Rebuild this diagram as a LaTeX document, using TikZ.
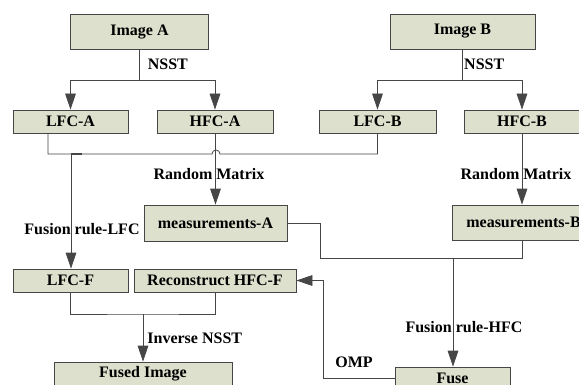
\documentclass[tikz,border=0pt]{standalone}
\usepackage{fontspec}
\setmainfont{Liberation Serif}
\usetikzlibrary{arrows.meta}
\definecolor{boxfill}{RGB}{221,224,204}
\definecolor{linegray}{RGB}{70,70,70}
\begin{document}
\begin{tikzpicture}[x=0.75pt, y=-0.75pt,
        box/.style={draw=linegray, fill=boxfill, line width=0.6pt, inner sep=0pt, font=\fontsize{12}{14}\selectfont\bfseries},
        link/.style={draw=linegray, line width=0.6pt},
        tip/.style={link, -{Triangle[length=12pt, width=8pt]}},
        lbl/.style={font=\fontsize{12}{14}\selectfont\bfseries, inner sep=1pt}]
    \def\bw{116} % width of the small boxes
    \def\sh{23}  % height of the small boxes

    % Frame of the picture
    \useasboundingbox (0,0) rectangle (579,385);
    \clip (0,0) rectangle (579,385);
    \fill[white] (0,0) rectangle (579,385);

    % Draw boxes
    \node[box, minimum width=138*0.75pt, minimum height=35*0.75pt] (imgA) at (139.5,31.5) {Image A};
    \node[box, minimum width=145*0.75pt, minimum height=35*0.75pt] (imgB) at (462.5,31.5) {Image B};
    \node[box, minimum width=115*0.75pt, minimum height=\sh*0.75pt] (lfcA) at (70.5,121.5) {LFC-A};
    \node[box, minimum width=\bw*0.75pt, minimum height=\sh*0.75pt] (hfcA) at (215,121.5) {HFC-A};
    \node[box, minimum width=117*0.75pt, minimum height=\sh*0.75pt] (lfcB) at (377.5,121.5) {LFC-B};
    \node[box, minimum width=\bw*0.75pt, minimum height=\sh*0.75pt] (hfcB) at (522,121.5) {HFC-B};
    \node[box, minimum width=143*0.75pt, minimum height=36*0.75pt] (measA) at (215.5,223) {measurements-A};
    \node[box, minimum width=143*0.75pt, minimum height=35*0.75pt] (measB) at (523.5,222.5) {measurements-B};
    \node[box, minimum width=115*0.75pt, minimum height=\sh*0.75pt] (lfcF) at (70.5,280.5) {LFC-F};
    \node[box, minimum width=162*0.75pt, minimum height=\sh*0.75pt] (recF) at (215,280.5) {Reconstruct HFC-F};
    \node[box, minimum width=178*0.75pt, minimum height=\sh*0.75pt] (fused) at (143,373.5) {Fused Image};
    \node[box, minimum width=115*0.75pt, minimum height=\sh*0.75pt] (fuse) at (452.5,378.5) {Fuse};

    % Turning points of the connectors
    \coordinate (splitA) at (139.5,80);
    \coordinate (splitB) at (462.5,80);
    \coordinate (busA) at (48,154);
    \coordinate (tapA) at (71,154);
    \coordinate (busH) at (320,258);
    \coordinate (joinH) at (453,258);
    \coordinate (mergeF) at (143,314);
    \coordinate (turnO) at (323,378.5);

    % NSST of both images
    \draw[link] (imgA) -- (splitA) node[lbl, midway, right=5pt] {NSST};
    \draw[tip] (splitA) -| (lfcA);
    \draw[tip] (splitA) -| (hfcA);
    \draw[link] (imgB) -- (splitB) node[lbl, midway, right] {NSST};
    \draw[tip] (splitB) -| (lfcB);
    \draw[tip] (splitB) -| (hfcB);

    % Low frequency bus, hopping over the HFC-A line
    \draw[link] (lfcA.south -| busA) -- (busA) -- (212,154) arc (180:360:4) -- (lfcB.south |- busA) -- (lfcB.south);
    \draw[tip] (tapA) -- (tapA |- lfcF.north);
    \draw[link, line width=1.4pt] (tapA) -- ++(11,0);
    \node[lbl] (ruleL) at (82,229) {Fusion rule-LFC};

    % Random matrix
    \draw[tip] (hfcA.south -| measA) -- (measA);
    \node[lbl] (rmA) at (209,174) {Random Matrix};
    \draw[tip] (hfcB) -- (hfcB.south |- measB.north);
    \node[lbl] (rmB) at (516,174) {Random Matrix};

    % High frequency fusion
    \draw[link] (measA) -| (busH) -- (busH -| hfcB) -- (hfcB |- measB.south);
    \draw[tip] (joinH) -- (joinH |- fuse.north);
    \node[lbl] (ruleH) at (464,327) {Fusion rule-HFC};

    % OMP reconstruction
    \draw[tip] (fuse) -- (turnO) |- (recF);
    \node[lbl] (omp) at (354,362) {OMP};

    % Inverse NSST
    \draw[link] (lfcF) |- (mergeF) -| (recF.south);
    \draw[tip] (mergeF) -- (fused) node[lbl, midway, right=2pt] {Inverse NSST};
\end{tikzpicture}
\end{document}
